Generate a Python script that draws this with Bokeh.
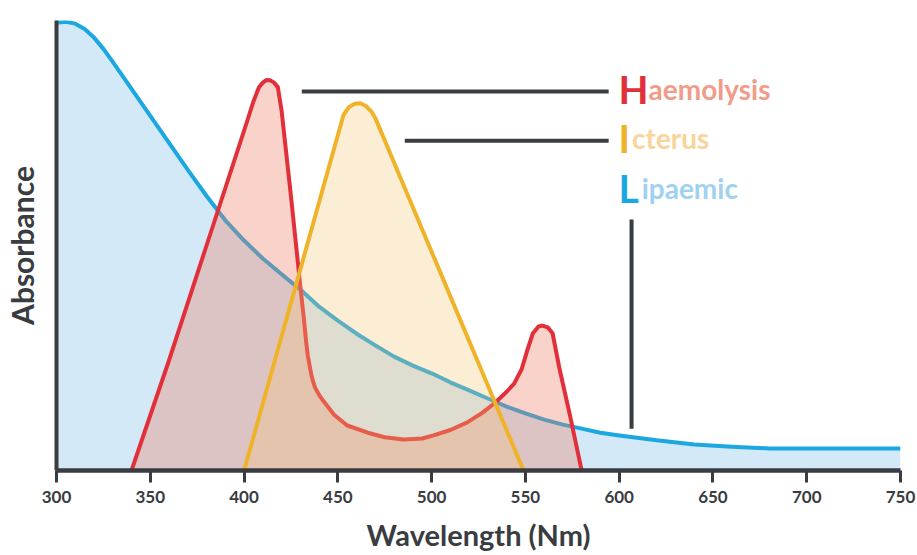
from bokeh.plotting import figure
from bokeh.embed import file_html
from bokeh.resources import INLINE
from bokeh.models import Range1d, FixedTicker
from bokeh.core.properties import value

# ---------------- data ----------------
lip_nm = [300, 305, 310, 315, 320, 325, 330, 335, 340, 350, 360, 370, 380, 390,
          400, 410, 420, 430, 440, 450, 460, 470, 480, 490, 500, 510, 520, 530,
          540, 550, 560, 570, 580, 590, 600, 620, 640, 660, 680, 700, 750]
lip_abs = [0.995, 0.997, 0.993, 0.981, 0.962, 0.937, 0.908, 0.878, 0.848, 0.788,
           0.728, 0.668, 0.610, 0.556, 0.511, 0.471, 0.436, 0.402, 0.364, 0.333,
           0.304, 0.278, 0.253, 0.233, 0.216, 0.196, 0.178, 0.160, 0.142, 0.127,
           0.113, 0.102, 0.093, 0.084, 0.078, 0.067, 0.058, 0.053, 0.049, 0.049,
           0.049]

haem_nm = [340, 360, 380, 400, 405, 408, 410, 412, 414, 416, 418, 420, 425, 430,
           432, 433, 434, 435, 436, 437, 438, 440, 442, 445, 448, 455, 466, 475,
           485, 495, 501, 510, 519, 527, 534, 540, 544, 548, 551, 554, 557, 559,
           562, 564.5, 568, 574, 580]
haem_abs = [0.0, 0.245, 0.50, 0.755, 0.820, 0.852, 0.862, 0.868, 0.867, 0.862,
            0.852, 0.800, 0.610, 0.410, 0.333, 0.290, 0.255, 0.232, 0.210, 0.195,
            0.183, 0.168, 0.156, 0.140, 0.124, 0.100, 0.084, 0.074, 0.069, 0.071,
            0.078, 0.090, 0.107, 0.128, 0.151, 0.175, 0.193, 0.225, 0.267, 0.305,
            0.320, 0.322, 0.318, 0.305, 0.230, 0.118, 0.0]

ict_nm = [400, 420, 440, 450, 453, 456, 459, 462, 465, 468, 470, 490, 510, 530, 549]
ict_abs = [0.0, 0.298, 0.596, 0.745, 0.790, 0.808, 0.815, 0.816, 0.810, 0.797,
           0.783, 0.585, 0.387, 0.189, 0.0]

x_ticks = [300, 350, 400, 450, 500, 550, 600, 650, 700, 750]

# legend texts and leader lines
cap_letters = ["H", "I", "L"]
rest_words = ["aemolysis", "cterus", "ipaemic"]
lead_x0 = [430.8, 485.7, 606.6]
lead_x1 = [594.4, 594.4, 606.6]
lead_y0 = [0.842, 0.733, 0.558]
lead_y1 = [0.842, 0.733, 0.093]
label_y = [0.847, 0.738, 0.627]

# ---------------- styling ----------------
DARK = "#393c41"
BLUE = "#1ba7e0"
RED = "#e2303b"
YEL = "#efb32a"
FONT = "Lato"

p = figure(width=917, height=555, output_backend="svg", toolbar_location=None,
           x_range=Range1d(300, 750), y_range=Range1d(0, 1),
           min_border_left=55, min_border_right=17, min_border_top=20,
           min_border_bottom=85)
p.outline_line_color = None
p.grid.visible = False
p.background_fill_color = "white"

# Lipaemic
p.varea(x=lip_nm, y1=0, y2=lip_abs, fill_color="#a9d4f0", fill_alpha=0.5)
p.line(lip_nm, lip_abs, line_color=BLUE, line_width=4, line_join="round")
# Haemolysis
p.varea(x=haem_nm, y1=0, y2=haem_abs, fill_color="#ee8164", fill_alpha=0.35)
p.line(haem_nm, haem_abs, line_color=RED, line_width=4, line_join="round",
       line_cap="round")
# Icterus
p.varea(x=ict_nm, y1=0, y2=ict_abs, fill_color="#f5c373", fill_alpha=0.3)
p.line(ict_nm, ict_abs, line_color=YEL, line_width=4, line_join="round",
       line_cap="round")

# leader lines
p.segment(x0=lead_x0, y0=lead_y0, x1=lead_x1, y1=lead_y1, line_color=DARK,
          line_width=4)

# legend text
p.text(x=[599.7, 599.7, 599.7], y=label_y, text=cap_letters,
       text_color=[RED, YEL, BLUE], text_font=value(FONT), text_font_style="bold",
       text_font_size="39px", text_baseline="alphabetic", text_align="left")
p.text(x=[615.7, 606.9, 612.0], y=label_y, text=rest_words,
       text_color=["#f09c88", "#f8d49a", "#a0d1f1"], text_font=value(FONT),
       text_font_style="bold", text_font_size="28px",
       text_baseline="alphabetic", text_align="left")

# axes
xa = p.xaxis[0]
xa.ticker = FixedTicker(ticks=x_ticks)
xa.axis_line_color = DARK
xa.axis_line_width = 4.5
xa.major_tick_line_color = DARK
xa.major_tick_line_width = 3
xa.major_tick_out = 12
xa.major_tick_in = 0
xa.minor_tick_out = 0
xa.minor_tick_in = 0
xa.major_label_text_font = FONT
xa.major_label_text_font_style = "bold"
xa.major_label_text_font_size = "17px"
xa.major_label_text_color = DARK
xa.major_label_standoff = 8
xa.axis_label = "Wavelength (Nm)"
xa.axis_label_text_font = FONT
xa.axis_label_text_font_style = "bold"
xa.axis_label_text_font_size = "29px"
xa.axis_label_text_color = DARK
xa.axis_label_standoff = 11

ya = p.yaxis[0]
ya.ticker = FixedTicker(ticks=[])
ya.axis_line_color = DARK
ya.axis_line_width = 4
ya.major_tick_out = 0
ya.major_tick_in = 0
ya.minor_tick_out = 0
ya.minor_tick_in = 0
ya.axis_label = "Absorbance"
ya.axis_label_text_font = FONT
ya.axis_label_text_font_style = "bold"
ya.axis_label_text_font_size = "30px"
ya.axis_label_text_color = DARK
ya.axis_label_standoff = 17

open("out.html", "w").write(file_html(p, INLINE))
